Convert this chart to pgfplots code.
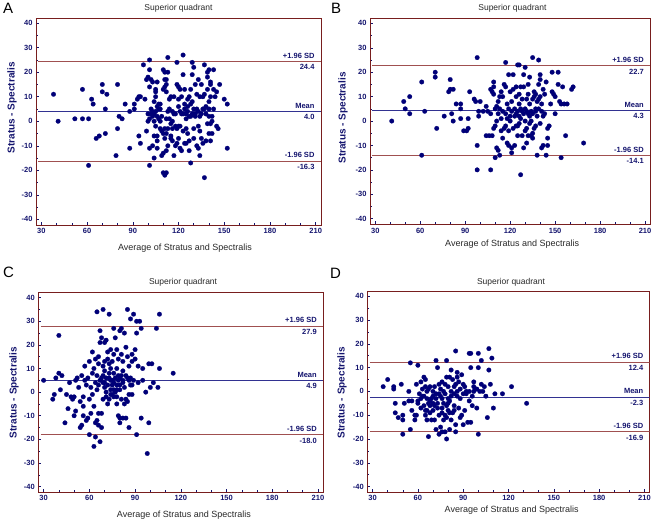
\documentclass[border=0pt]{standalone}
\usepackage{pgfplots}
\pgfplotsset{compat=1.18}
\usepackage{fontspec}
\setmainfont{Liberation Sans}
\definecolor{ptcol}{RGB}{0,0,120}
\definecolor{framecol}{RGB}{120,30,30}
\definecolor{sdcol}{RGB}{160,80,80}
\definecolor{meancol}{RGB}{50,50,145}
\definecolor{lab}{RGB}{20,20,110}
\definecolor{titlecol}{RGB}{40,40,40}
\tikzset{lbl/.style={font=\bfseries\fontsize{7.5}{9}\selectfont, text=lab, inner xsep=1.5pt, inner ysep=3pt}}
\pgfplotsset{
  every axis title/.style={},
  ba/.style={
    scale only axis,
    xmin=26.5, xmax=213.5, ymin=-42.3, ymax=42.1,
    xtick={30,60,90,120,150,180,210},
    xticklabels={30,60,90,120,150,180,210},
    ytick={-40,-30,-20,-10,0,10,20,30,40},
    yticklabels={-40,-30,-20,-10,0,10,20,30,40},
    minor y tick num=1, minor x tick num=2,
    tick pos=left, tick align=inside,
    major tick length=3pt, minor tick length=1.8pt,
    axis line style={draw=framecol, line width=0.9pt},
    tick style={draw=lab, line width=0.5pt},
    ticklabel style={font=\bfseries\fontsize{7.5}{9}\selectfont, text=lab},
    title style={font=\fontsize{8.5}{10}\selectfont, text=titlecol, anchor=center},
    xlabel style={font=\fontsize{9}{10}\selectfont, text=titlecol, anchor=center},
    ylabel style={font=\bfseries\fontsize{10}{11}\selectfont, text=lab, anchor=center},
    title={Superior quadrant},
    xlabel={Average of Stratus and Spectralis},
    ylabel={Stratus - Spectralis},
  },
  pts/.style={only marks, mark=*, mark size=2.3pt, mark options={draw=ptcol, fill=ptcol, line width=0.2pt}},
}
\newcommand{\balines}[3]{%
  \addplot[sdcol, line width=0.6pt] coordinates {(28,#1) (213.5,#1)};
  \addplot[meancol, line width=0.7pt] coordinates {(28,#2) (213.5,#2)};
  \addplot[sdcol, line width=0.6pt] coordinates {(28,#3) (213.5,#3)};
  \node[lbl, anchor=south east] at (axis cs:210.3,#1) {+1.96 SD};
  \node[lbl, anchor=north east] at (axis cs:210.3,#1) {#1};
  \node[lbl, anchor=south east] at (axis cs:210.3,#2) {Mean};
  \node[lbl, anchor=north east] at (axis cs:210.3,#2) {#2};
  \node[lbl, anchor=south east] at (axis cs:210.3,#3) {-1.96 SD};
  \node[lbl, anchor=north east] at (axis cs:210.3,#3) {#3};
}
\begin{document}
\begin{tikzpicture}
\useasboundingbox (0pt,0pt) rectangle (655pt,522pt);
% Panel A
\begin{axis}[ba, at={(36pt,297pt)}, anchor=south west, width=285pt, height=207pt,
  title style={at={(axis description cs:0.5,1.048)}},
  xlabel style={at={(axis description cs:0.523,-0.111)}},
  ylabel style={at={(axis description cs:-0.084,0.566)}}]
\addplot[pts] coordinates {
(38,11) (41,0) (52,1) (57,13) (57,1) (61,1) (61,-18) (63,9) (64,7) (66,-7) (68,-6) (70,15) (70,12) (72,5) (72,-5) (73,11) (79,-14) (80,15) (80,-3) (81,2) (83,1) (85,7) (88,4) (88,-11)
(91,7) (91,5) (94,10) (93,9) (95,10) (94,-6) (95,-9) (97,23) (98,9) (99,17) (100,18) (99,-4) (100,3) (100,0) (101,1) (101,25) (101,21) (102,17) (101,14) (103,16) (102,5) (101,-11) (101,-18) (103,-10) (104,-15) (102,3) (103,2) (104,0)
(105,13) (105,10) (105,12) (106,6) (105,4) (104,-6) (106,-6) (105,-2) (106,-8) (106,-11) (107,5) (107,1) (108,0) (108,7) (109,-14) (109,-4) (110,-5) (110,21) (111,20) (111,17) (112,17) (110,13) (111,14) (112,15) (113,26) (113,20) (112,12) (111,-3) (110,-21) (111,-22) (112,-21) (111,-7) (112,-12) (112,-5) (113,-10) (113,4) (114,9) (114,1) (114,5) (115,-1) (115,-6) (115,-7) (116,0) (116,-3) (117,10) (117,3) (117,-14) (116,-8)
(118,-10) (119,-3) (119,24) (119,15) (120,14) (121,13) (120,9) (120,6) (120,-2) (121,-2) (119,-9) (120,-7) (121,-11) (122,-12) (122,3) (122,10) (123,27) (123,19) (124,13) (124,7) (124,5) (125,-3) (125,-9) (125,1) (126,6) (126,9) (127,10) (127,-12) (127,-8) (128,-17) (128,2) (128,7) (128,13) (129,19) (129,24) (129,8) (130,22) (130,5) (130,-3) (130,-7) (131,3) (131,15) (131,2)
(132,-10) (132,11) (133,-2) (133,17) (134,10) (134,-14) (134,-4) (135,15) (135,-7) (136,5) (136,10) (136,-9) (137,23) (137,-23) (137,11) (138,-8) (138,3) (139,20) (139,18) (139,13) (140,21) (140,-5) (140,5) (140,2) (140,8) (141,10) (141,-8) (141,16) (141,15) (142,0) (142,2) (143,21) (143,13) (143,5) (144,10) (145,12) (145,-2) (146,-3) (147,15) (150,9) (152,7) (152,-11) (141,-1) (139,-1) (142,-5)
(103,4) (104,3) (106,2) (107,7) (108,5) (109,2) (116,4) (118,3) (121,4) (123,3) (125,3) (126,4) (127,2) (129,3) (132,5) (133,4) (134,2) (135,3) (137,5) (138,6) (108,-3) (118,-2) (123,-4) (126,-5) (110,-13) (124,-9) (133,-11) (112,1) (113,-3) (104,8) (106,16) (115,10)
};
\balines{24.4}{4.0}{-16.3}
\end{axis}
% Panel B
\begin{axis}[ba, at={(370pt,297.7pt)}, anchor=south west, width=280.3pt, height=206pt,
  title style={at={(axis description cs:0.508,1.049)}},
  xlabel style={at={(axis description cs:0.507,-0.097)}},
  ylabel style={at={(axis description cs:-0.096,0.516)}}]
\addplot[pts] coordinates {
(41,0) (49,8) (50,5) (53,10) (53,3) (61,-14) (61,16) (63,4) (70,20) (70,18) (71,-3) (76,2) (79,12) (80,13) (80,17) (81,3) (82,13) (82,0) (84,7) (87,7) (87,5) (87,1) (89,-4) (91,-4) (92,-3) (92,1) (93,12) (96,9) (97,8) (98,-10) (98,-20) (98,26) (99,2) (99,4) (100,8) (102,4) (104,6) (104,-6) (105,4) (106,-6) (107,-20) (107,3) (107,13) (108,12) (108,-6) (109,16) (109,11) (109,-3) (109,14) (110,-15) (110,-2) (111,0) (111,-11) (112,3) (112,8) (112,-12) (113,10) (113,-14) (114,12) (114,-4) (114,1) (115,-7) (115,10) (116,15) (116,-3) (117,24) (117,14) (118,7) (118,-9) (119,19) (119,-10) (120,0) (120,12) (120,2) (121,-13) (121,-11) (121,8) (122,13) (122,19) (123,5) (123,-10) (124,-2) (124,3) (124,10) (125,23) (125,-6) (126,23) (126,7) (126,2) (127,1) (127,14) (127,-22) (128,-6) (128,4) (129,-11) (129,14) (129,19) (130,22) (130,0) (130,5) (131,9) (131,-3) (131,-9) (132,15) (132,3) (132,-6) (133,18) (133,-1) (133,7) (134,-6) (134,0) (134,4) (135,-5) (135,9) (135,-7) (135,26) (136,-3) (136,10) (137,5) (137,11) (138,8) (138,2) (138,-14) (139,25) (139,15) (139,9) (140,19) (140,17) (140,-1) (141,4) (141,7) (141,-11) (142,13) (142,-10) (143,3) (143,11) (144,16) (144,-14) (145,-7) (145,-10) (145,-3) (146,-2) (147,7) (148,12) (148,20) (149,11) (150,3) (150,10) (152,20) (152,15) (153,8) (154,-15) (154,7) (155,14) (156,7) (157,-6) (158,7) (161,13) (162,14) (169,-9)
(115,4) (117,3) (119,5) (121,4) (123,2) (125,4) (127,5) (129,3) (131,4) (133,2) (135,3) (137,4) (139,5) (126,-1) (122,-3) (118,1) (113,5) (111,6) (128,9) (132,11) (136,12) (140,10) (126,11) (124,14) (142,2) (137,-2) (130,-4) (125,-2) (119,-4) (117,-2) (110,5)
};
\balines{22.7}{4.3}{-14.1}
\end{axis}
% Panel C
\begin{axis}[ba, at={(38.3pt,30pt)}, anchor=south west, width=285pt, height=199.3pt,
  title style={at={(axis description cs:0.508,1.05)}},
  xlabel style={at={(axis description cs:0.511,-0.115)}},
  ylabel style={at={(axis description cs:-0.085,0.498)}}]
\addplot[pts] coordinates {
(30,5) (36,-3) (37,-1) (38,6) (40,24) (40,8) (41,1) (42,7) (44,-13) (45,-1) (46,-7) (47,4) (48,-2) (49,-3) (50,-10) (50,-2) (51,-8) (51,5) (52,6) (53,2) (54,-15) (54,-4) (55,-14) (55,7) (56,-10) (56,-6) (56,-2) (57,11) (57,5) (58,-12) (58,3) (59,-11) (59,6) (60,-18) (60,-3) (60,13) (61,-9) (61,2) (62,8) (62,17) (62,-1) (63,-23) (63,10) (63,-6) (64,-19) (64,-13) (64,4) (64,14) (65,1) (65,-12) (65,7) (65,34) (66,12) (66,-14) (66,-9) (66,15) (67,-21) (67,26) (67,21) (68,-15) (68,-9) (68,6) (68,23) (69,4) (69,35) (69,-3) (69,11) (70,21) (70,2) (70,9) (71,6) (71,22) (71,-2) (72,-5) (72,17) (72,14) (73,8) (73,33) (73,-3) (74,1) (74,10) (74,5) (74,18) (75,-1) (75,13) (75,3) (76,27) (76,-2) (76,8) (77,23) (77,0) (77,6) (78,-2) (78,10) (78,-5) (79,14) (79,-10) (79,5) (80,-13) (80,-11) (80,26) (80,3) (81,16) (81,-3) (81,7) (81,27) (82,9) (82,13) (82,-11) (83,-5) (83,25) (83,2) (84,-11) (84,19) (84,-3) (85,35) (85,6) (85,-4) (85,15) (86,-15) (86,-1) (86,11) (87,31) (87,3) (88,13) (88,-1) (88,16) (89,33) (89,5) (90,14) (90,18) (91,25) (91,30) (91,-18) (92,11) (92,4) (93,30) (94,27) (94,-11) (95,10) (95,5) (97,0) (98,-26) (99,-13) (99,12) (100,2) (101,12) (102,4) (104,27) (105,2) (106,33) (106,10) (115,8)
(70,4) (72,3) (73,6) (75,5) (76,4) (78,3) (79,7) (80,6) (82,4) (74,-1) (76,1) (78,1) (71,0) (84,7) (86,5) (87,6) (88,3) (66,3) (67,5) (69,7) (73,12) (76,16) (78,18) (70,13) (82,5) (80,1)
};
\balines{27.9}{4.9}{-18.0}
\end{axis}
% Panel D
\begin{axis}[ba, at={(367.3pt,30pt)}, anchor=south west, width=282.4pt, height=200.7pt,
  title style={at={(axis description cs:0.509,1.046)}},
  xlabel style={at={(axis description cs:0.511,-0.09)}},
  ylabel style={at={(axis description cs:-0.0896,0.495)}}]
\addplot[pts] coordinates {
(37,2) (40,5) (44,2) (44,1) (45,-5) (45,-9) (47,-11) (49,3) (50,-10) (50,-12) (50,-18) (51,-5) (54,0) (54,-4) (55,-16) (55,12) (56,-8) (56,-4) (58,-12) (58,-10) (59,3) (59,-10) (60,11) (60,-5) (60,-4) (61,-1) (62,4) (62,-7) (63,-2) (63,1) (64,6) (64,-6) (65,-8) (65,2) (65,5) (66,-3) (66,-12) (67,-19) (67,1) (67,-5) (68,2) (68,-9) (69,-12) (69,-3) (70,0) (70,-8) (71,2) (71,-12) (72,13) (72,-1) (72,-16) (73,10) (73,-5) (74,-18) (74,3) (74,-10) (75,-2) (75,-15) (75,1) (76,-17) (76,4) (76,-7) (77,0) (77,-12) (77,-5) (78,3) (78,-10) (78,-17) (79,6) (79,-20) (79,-6) (79,13) (80,-3) (80,2) (80,-8) (81,6) (81,-4) (81,-16) (82,0) (82,-12) (82,9) (83,5) (83,-9) (84,-6) (84,-1) (85,17) (85,-14) (85,-17) (85,3) (86,8) (86,6) (86,-2) (87,4) (87,-7) (88,-11) (88,-3) (89,7) (89,-10) (90,-1) (90,-14) (91,-8) (91,2) (92,-1) (93,-13) (94,16) (94,-4) (95,16) (95,10) (95,-13) (96,-6) (96,-2) (97,4) (97,2) (98,1) (99,-7) (100,16) (100,10) (100,-18) (101,0) (102,13) (102,3) (104,2) (105,-2) (106,-11) (107,18) (107,9) (108,3) (109,14) (110,-7) (111,-1) (116,-1) (122,2) (132,-5)
(64,-2) (66,0) (68,-4) (70,-2) (72,-3) (74,-1) (76,-3) (78,-1) (80,-5) (82,-2) (84,2) (86,0) (88,1) (90,3) (92,0) (70,-5) (73,-7) (76,-9) (79,-11) (81,-9) (68,-6) (66,-8) (62,-3) (65,-10) (71,-6) (94,0) (97,0) (99,1) (103,0) (84,-8)
};
\balines{12.4}{-2.3}{-16.9}
\end{axis}
% Panel letters
\node[anchor=north west, inner sep=0pt, font=\fontsize{15}{15}\selectfont] at (3pt,519pt) {A};
\node[anchor=north west, inner sep=0pt, font=\fontsize{15}{15}\selectfont] at (331pt,519pt) {B};
\node[anchor=north west, inner sep=0pt, font=\fontsize{15}{15}\selectfont] at (3pt,255pt) {C};
\node[anchor=north west, inner sep=0pt, font=\fontsize{15}{15}\selectfont] at (330pt,254pt) {D};
\end{tikzpicture}
\end{document}
